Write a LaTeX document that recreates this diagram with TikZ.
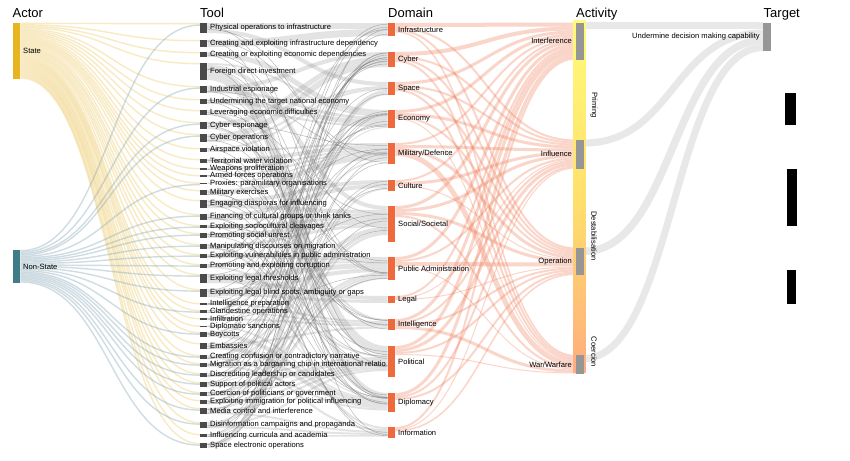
\documentclass[tikz,border=0pt]{standalone}
\usepackage{fontspec}
\setmainfont{Liberation Sans}
\usetikzlibrary{calc}
\pgfdeclarelayer{bg}
\pgfsetlayers{bg,main}

\definecolor{statecol}{RGB}{232,181,32}
\definecolor{nonstatecol}{RGB}{62,125,135}
\definecolor{toolcol}{RGB}{74,74,74}
\definecolor{domcol}{RGB}{238,106,60}
\definecolor{actgray}{RGB}{150,150,150}
\definecolor{phasetop}{RGB}{255,250,120}
\definecolor{phasemid}{RGB}{255,224,108}
\definecolor{phasebot}{RGB}{255,172,125}

\tikzset{
  bar/.style={inner sep=0pt, minimum width=7pt, anchor=north west},
  lbl/.style={font=\fontsize{7.6}{8}\selectfont, inner sep=0pt, anchor=west},
  coltitle/.style={font=\fontsize{13}{15}\selectfont, inner sep=0pt, anchor=base west},
  phase/.style={font=\fontsize{7.6}{8}\selectfont, inner sep=0pt, rotate=-90},
  statelink/.style={draw={rgb,255:red,235;green,190;blue,70}, draw opacity=.32},
  nonlink/.style={draw={rgb,255:red,120;green,160;blue,175}, draw opacity=.35},
  toollink/.style={draw=gray, draw opacity=.22},
  thinlink/.style={draw=black!55, draw opacity=.45, line width=.55pt},
  domlink/.style={draw={rgb,255:red,240;green,120;blue,80}, draw opacity=.3},
  tgtlink/.style={draw=black!9}
}

% band from the right side of #2 to the left side of #3, stacked from the top
\newcommand{\flowlink}[4]{%
  \ifcsname fo-#2\endcsname\else\expandafter\gdef\csname fo-#2\endcsname{0}\fi
  \ifcsname fi-#3\endcsname\else\expandafter\gdef\csname fi-#3\endcsname{0}\fi
  \edef\fcur{\csname fo-#2\endcsname}\edef\gcur{\csname fi-#3\endcsname}%
  \pgfmathsetmacro\fa{\fcur+#4/2}\pgfmathsetmacro\fb{\gcur+#4/2}%
  \draw[#1, line width=#4pt] ([yshift=-\fa pt]#2.north east)
    to[out=0, in=180, distance=90pt] ([yshift=-\fb pt]#3.north west);
  \pgfmathsetmacro\fa{\fcur+#4}\expandafter\xdef\csname fo-#2\endcsname{\fa}%
  \pgfmathsetmacro\fb{\gcur+#4}\expandafter\xdef\csname fi-#3\endcsname{\fb}%
}
% single thin line somewhere along both bars
\newcommand{\thinflow}[2]{%
  \pgfmathsetmacro\fa{0.1+0.8*rnd}\pgfmathsetmacro\fb{0.05+0.9*rnd}%
  \draw[thinlink] ($(#1.north east)!\fa!(#1.south east)$)
    to[out=0, in=180, distance=90pt] ($(#2.north west)!\fb!(#2.south west)$);
}

\begin{document}
\begin{tikzpicture}[x=1pt, y=-1pt]
  \useasboundingbox (0,0) rectangle (850,460);

  % column titles
  \node[coltitle] (actortitle) at (12.5,17.5) {Actor};
  \node[coltitle] (tooltitle) at (200,17.5) {Tool};
  \node[coltitle] (domaintitle) at (388,17.5) {Domain};
  \node[coltitle] (activitytitle) at (576,17.5) {Activity};
  \node[coltitle] (targettitle) at (763.5,17.5) {Target};

  % actors
  \node[bar, fill=statecol, minimum width=7.5pt, minimum height=56pt] (state) at (12.5,22.7) {};
  \node[bar, fill=nonstatecol, minimum width=7.5pt, minimum height=32.7pt] (nonstate) at (12.5,250) {};
  \node[lbl] (statelbl) at (23,51) {State};
  \node[lbl] (nonstatelbl) at (23,266.5) {Non-State};

  % tools
  \foreach \ty/\h/\txt [count=\i] in {
    23/10/Physical operations to infrastructure,
    40/7/Creating and exploiting infrastructure dependency,
    52/5/Creating or exploiting economic dependencies,
    63/17/Foreign direct investment,
    86/7/Industrial espionage,
    99/5/Undermining the target national economy,
    110/5/Leveraging economic difficulties,
    122/7/Cyber espionage,
    134/8/Cyber operations,
    148/4/Airspace violation,
    159/4/Territorial water violation,
    168/2/Weapons proliferation,
    175/2/Armed forces operations,
    182.5/1.5/Proxies: paramilitary organisations,
    190/5/Military exercises,
    200/8/Engaging diasporas for influencing,
    214/6/Financing of cultural groups or think tanks,
    225/3/Exploiting sociocultural cleavages,
    233/5/Promoting social unrest,
    244/5/Manipulating discourses on migration,
    254/4/Exploiting vulnerabilities in public administration,
    264/4/Promoting and exploiting corruption,
    274/9/Exploiting legal thresholds,
    289/8/{Exploiting legal blind spots, ambiguity or gaps},
    303/2/Intelligence preparation,
    310/3/Clandestine operations,
    318/2/Infiltration,
    325.5/1.5/Diplomatic sanctions,
    332/5/Boycotts,
    343/6/Embassies,
    355/4/Creating confusion or contradictory narrative,
    363/4/Migration as a bargaining chip in international relatio,
    373/4/Discrediting leadership or candidates,
    382/5/Support of political actors,
    392/4/Coercion of politicians or government,
    400/4/Exploiting immigration for political influencing,
    408/6/Media control and interference,
    422/6/Disinformation campaigns and propaganda,
    434/3/Influencing curricula and academia,
    443/5/Space electronic operations} {
    \node[lbl] (tl\i) at (210,\ty+\h/2) {\txt};
    \node[bar, fill=toolcol, minimum height=\h pt] (t\i) at (200,\ty) {};
  }

  % domains
  \foreach \ty/\h/\txt [count=\i] in {
    23/13/Infrastructure, 52/15/Cyber, 82/13/Space, 110/18/Economy,
    143/21/{Military/Defence}, 180/11/Culture, 206/36/{Social/Societal},
    257/23/Public Administration, 296/7/Legal, 319/11/Intelligence,
    346/31/Political, 393/19/Diplomacy, 427/11/Information} {
    \node[bar, fill=domcol, minimum width=7.5pt, minimum height=\h pt] (d\i) at (387.5,\ty) {};
    \node[lbl] (dl\i) at (398,\ty+\h/2) {\txt};
  }

  % activities: phase bar from yellow to orange
  \foreach \s in {0,...,49} {
    \pgfmathsetmacro\p{2*\s}
    \fill[phasemid!\p!phasetop] (573,20+\s*3.53) rectangle (586,20+\s*3.53+3.8);
    \fill[phasebot!\p!phasemid] (573,196.5+\s*3.53) rectangle (586,{min(373,196.5+\s*3.53+3.8)});
  }
  \node[bar, fill=actgray, minimum width=7.5pt, minimum height=37pt] (a1) at (576,22.5) {};
  \node[bar, fill=actgray, minimum width=7.5pt, minimum height=29pt] (a2) at (576,139.5) {};
  \node[bar, fill=actgray, minimum width=7.5pt, minimum height=27.5pt] (a3) at (576,247.5) {};
  \node[bar, fill=actgray, minimum width=7.5pt, minimum height=18.5pt] (a4) at (576,355) {};
  \node[lbl, anchor=east] (al1) at (572,41) {Interference};
  \node[lbl, anchor=east] (al2) at (572,154) {Influence};
  \node[lbl, anchor=east] (al3) at (572,262) {Operation};
  \node[lbl, anchor=east] (al4) at (572,365) {War/Warfare};
  \node[phase] (priming) at (594,105) {Priming};
  \node[phase] (destab) at (594,236) {Destabilisation};
  \node[phase] (coercion) at (594,352) {Coercion};

  % target
  \node[bar, fill=actgray, minimum width=7.5pt, minimum height=28.5pt] (target) at (763,22.5) {};
  \node[lbl, anchor=east] (targetlbl) at (760,36.5) {Undermine decision making capability};

  \fill (785,93) rectangle (796,125);
  \fill (786.5,169) rectangle (796.5,226);
  \fill (786.5,270) rectangle (796,303.5);

  \begin{pgfonlayer}{bg}
    \fill[white] (0,0) rectangle (850,460);
    % actor -> tool
    \foreach \i in {1,...,40} {\flowlink{statelink}{state}{t\i}{1.4}}
    \foreach \k in {1,5,8,9,14,17,18,19,20,21,22,23,24,26,29,31,32,33,34,35,37,38,40}
      {\flowlink{nonlink}{nonstate}{t\k}{1.42}}
    % tool -> domain
    \foreach \src/\dst/\wd in {1/1/6, 1/3/4, 2/1/7, 3/4/5, 4/4/2, 4/7/4, 4/11/6, 4/12/5,
      5/2/4, 5/4/3, 6/4/5, 7/4/2, 7/11/3, 8/2/5, 8/10/2, 9/2/6, 9/3/2, 10/3/2, 10/5/2,
      11/5/4, 12/5/2, 13/5/2, 14/5/1.5, 15/5/5, 16/6/4, 16/7/4, 17/6/4, 17/7/2, 18/7/3,
      19/7/5, 20/7/3, 20/13/2, 21/8/4, 22/8/2, 22/11/2, 23/8/5, 23/9/4, 24/8/4, 24/9/3,
      24/12/1, 25/10/2, 26/5/1.5, 26/10/1.5, 27/10/2, 28/12/1.5, 29/4/1, 29/12/4,
      30/10/2, 30/12/4, 31/7/2, 31/13/2, 32/7/2, 32/12/2, 33/8/2, 33/11/2, 34/8/1,
      34/11/4, 35/8/2, 35/11/2, 36/7/2, 36/11/2, 37/8/2, 37/11/2, 37/13/2, 38/7/2,
      38/11/2, 38/13/2, 39/6/1.5, 39/13/1.5, 40/3/5}
      {\flowlink{toollink}{t\src}{d\dst}{\wd}}
    \pgfmathsetseed{11}
    \foreach \src/\dst in {1/5, 1/8, 2/5, 2/11, 3/7, 3/12, 4/8, 4/13, 5/10, 5/5, 6/8,
      6/11, 7/7, 7/12, 8/5, 8/11, 9/10, 9/8, 10/12, 11/10, 11/12, 12/10, 13/12, 15/12,
      15/10, 16/11, 16/12, 17/11, 17/13, 18/8, 18/13, 19/5, 19/11, 20/12, 20/11, 21/1,
      21/4, 22/4, 22/2, 23/4, 23/12, 24/2, 24/7, 25/2, 25/5, 26/1, 26/2, 27/3, 27/8,
      28/4, 29/1, 29/7, 30/2, 30/5, 31/2, 31/4, 32/4, 32/5, 33/2, 33/6, 34/1, 34/4,
      35/3, 35/7, 36/5, 36/8, 37/2, 37/6, 38/4, 38/6, 39/2, 39/7, 40/1, 40/5}
      {\thinflow{t\src}{d\dst}}
    % domain -> activity
    \foreach \src/\dst/\wd in {1/1/4, 1/2/2, 1/3/2, 1/4/1.5, 2/1/4, 2/2/2, 2/3/2, 2/4/2,
      3/1/3, 3/2/2, 3/3/2, 3/4/2, 4/1/3, 4/2/3, 4/3/2, 4/4/1, 5/1/2, 5/2/3, 5/3/3, 5/4/5,
      6/1/2, 6/2/3, 6/3/1, 7/1/3, 7/2/3, 7/3/3, 7/4/2, 8/1/3, 8/2/2, 8/3/4, 8/4/1,
      9/1/2, 9/2/1, 9/3/1, 10/1/3, 10/2/2, 10/3/2, 10/4/3, 11/1/3, 11/2/3, 11/3/2,
      11/4/1, 12/1/3, 12/2/2, 12/3/2, 13/1/2, 13/2/1, 13/3/1.5}
      {\flowlink{domlink}{d\src}{a\dst}{\wd}}
    % activity -> target
    \flowlink{tgtlink}{a1}{target}{7}
    \flowlink{tgtlink}{a2}{target}{7}
    \flowlink{tgtlink}{a3}{target}{7.5}
    \flowlink{tgtlink}{a4}{target}{7}
  \end{pgfonlayer}
\end{tikzpicture}
\end{document}
